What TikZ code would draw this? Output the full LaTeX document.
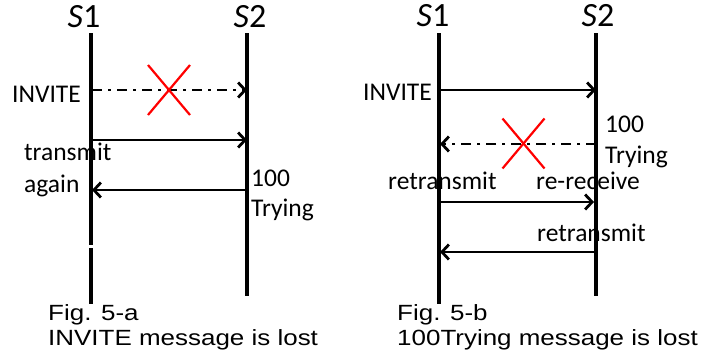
\documentclass[tikz,border=0pt]{standalone}
\usepackage{fontspec}
\setmainfont{Carlito}
\newfontfamily\capfont[FakeStretch=1.18]{Liberation Sans}
\usetikzlibrary{arrows.meta}

\tikzset{
	lifeline/.style={line width=3.2pt},
	msg/.style={line width=2.8pt,-{Straight Barb[length=7pt,width=15pt,line width=2.8pt]}},
	lostmsg/.style={msg,dash pattern=on 10pt off 6pt on 3pt off 6pt},
	cross/.style={red,line width=2.2pt},
	lbl/.style={inner sep=0pt,font=\fontsize{25.5}{28}\selectfont},
	head/.style={inner sep=0pt,anchor=base,font=\fontsize{34}{36}\selectfont},
	caption/.style={inner sep=0pt,anchor=base west,font=\capfont\fontsize{22}{26}\selectfont}
}

\begin{document}
\begin{tikzpicture}[x=1pt,y=-1pt]
	\useasboundingbox (0,0) rectangle (703,362);
	% lifeline ends: a = Fig. 5-a, b = Fig. 5-b
	\foreach \p/\xa/\xb in {a/91/247, b/439/596}{
		\coordinate (\p1top) at (\xa,33);
		\coordinate (\p1bot) at (\xa,304);
		\coordinate (\p2top) at (\xb,33);
		\coordinate (\p2bot) at (\xb,296);
	}
	% lifelines (S1 of 5-a is broken near the bottom)
	\coordinate (a1gapT) at (91,245);
	\coordinate (a1gapB) at (91,248);
	\draw[lifeline] (a1top) -- (a1gapT);
	\draw[lifeline] (a1gapB) -- (a1bot);
	\draw[lifeline] (a2top) -- (a2bot);
	\draw[lifeline] (b1top) -- (b1bot);
	\draw[lifeline] (b2top) -- (b2bot);
	% headers
	\node[head] (aS1) at (84,27) {\textit{S}1};
	\node[head] (aS2) at (250,27) {\textit{S}2};
	\node[head] (bS1) at (433,26) {\textit{S}1};
	\node[head] (bS2) at (598,26) {\textit{S}2};

	% ---- Fig. 5-a ----
	\coordinate (a1m1) at (92,90);  \coordinate (a2m1) at (247,90);
	\coordinate (a1m2) at (91,140); \coordinate (a2m2) at (247,140);
	\coordinate (a2m3) at (247,190);\coordinate (a1m3) at (92,190);
	\draw[lostmsg] (a1m1) -- (a2m1);
	\draw[msg] (a1m2) -- (a2m2);
	\draw[msg] (a2m3) -- (a1m3);
	% lost message marker
	\coordinate (alost) at (169,90);
	\draw[cross] (alost) ++(-21,-25) -- ++(42,50);
	\draw[cross] (alost) ++(21,-25) -- ++(-42,50);
	\node[lbl,anchor=base east] (ainvite) at (81,102.5) {INVITE};
	\node[lbl,anchor=base west] (atrans) at (24,160.5) {transmit};
	\node[lbl,anchor=base west] (aagain) at (24,192.5) {again};
	\node[lbl,anchor=base west] (a100) at (251,186) {100};
	\node[lbl,anchor=base west] (atry) at (251,216.5) {Trying};

	% ---- Fig. 5-b ----
	\coordinate (b1m1) at (439,90);  \coordinate (b2m1) at (596,90);
	\coordinate (b2m2) at (596,144); \coordinate (b1m2) at (440,144);
	\coordinate (b1m3) at (439,202); \coordinate (b2m3) at (594,202);
	\coordinate (b2m4) at (594,252); \coordinate (b1m4) at (440,252);
	\draw[msg] (b1m1) -- (b2m1);
	\draw[lostmsg] (b2m2) -- (b1m2);
	\draw[msg] (b1m3) -- (b2m3);
	\draw[msg] (b2m4) -- (b1m4);
	% lost message marker
	\coordinate (blost) at (523.5,143.5);
	\draw[cross] (blost) ++(-21,-25) -- ++(42,50);
	\draw[cross] (blost) ++(21,-25) -- ++(-42,50);
	\node[lbl,anchor=base east] (binvite) at (432,100) {INVITE};
	\node[lbl,anchor=base west] (b100) at (605,132) {100};
	\node[lbl,anchor=base west] (btry) at (605,163) {Trying};
	\node[lbl,anchor=base west] (bretx) at (388,189) {retransmit};
	\node[lbl,anchor=base west] (brerx) at (536,189) {re-receive};
	\node[lbl,anchor=base west] (bretx2) at (537,241.5) {retransmit};

	% captions
	\node[caption] (acap1) at (48,320) {Fig. 5-a};
	\node[caption] (acap2) at (48,345) {INVITE message is lost};
	\node[caption] (bcap1) at (397,320) {Fig. 5-b};
	\node[caption] (bcap2) at (397,345) {100Trying message is lost};
\end{tikzpicture}
\end{document}
